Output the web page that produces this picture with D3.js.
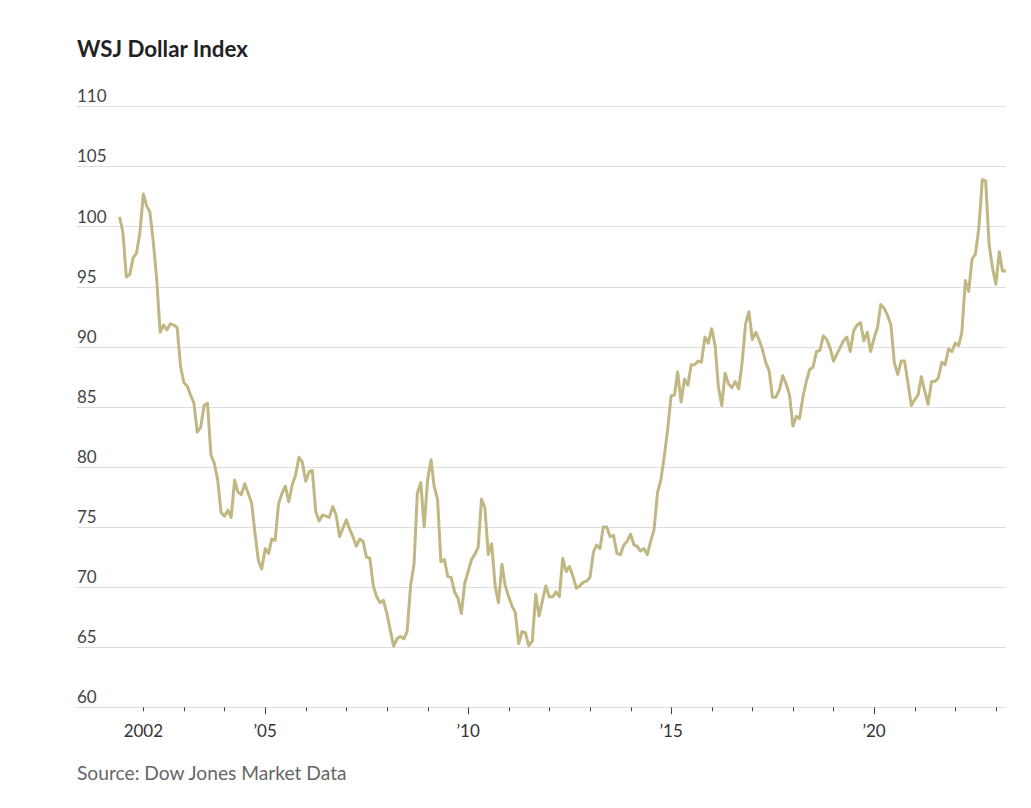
<!DOCTYPE html>
<html>
<head>
<meta charset="utf-8">
<script src="https://cdn.jsdelivr.net/npm/d3@7"></script>
<style>
  html, body { margin: 0; padding: 0; background: #fff; }
  svg { display: block; }
  text { font-family: Lato, "Open Sans", sans-serif; }
</style>
</head>
<body>
<svg id="chart" width="1031" height="808"></svg>
<script>
// ---- Data (monthly, starting June 2001) ----
const startMonth = [2001, 5]; // year, zero-based month
const indexValues = [
  100.8, 99.5, 95.8, 96.0, 97.4, 97.8, 99.5, 102.7, 101.7, 101.2,
  98.7, 95.6, 91.2, 91.8, 91.4, 91.9, 91.8, 91.6, 88.4, 87.0,
  86.7, 86.0, 85.3, 82.9, 83.3, 85.1, 85.3, 81.0, 80.3, 78.9,
  76.2, 75.9, 76.4, 75.8, 78.9, 77.9, 77.7, 78.6, 77.8, 77.0,
  74.5, 72.2, 71.5, 73.2, 72.8, 74.0, 73.9, 76.9, 77.8, 78.4,
  77.1, 78.5, 79.3, 80.8, 80.4, 78.8, 79.6, 79.7, 76.3, 75.5,
  76.0, 75.9, 75.8, 76.7, 76.0, 74.2,
  74.9, 75.6, 74.8, 74.2, 73.4, 74.0, 73.8, 72.5, 72.4, 70.1,
  69.2, 68.7, 68.9, 67.8, 66.4, 65.1, 65.7, 65.9, 65.7, 66.3,
  70.1, 71.9, 77.8, 78.7, 75.0, 78.9, 80.6, 78.4, 77.3, 72.1,
  72.3, 70.9, 70.8, 69.6, 69.1, 67.8, 70.3, 71.3, 72.3, 72.7,
  73.3, 77.3, 76.6, 72.7, 73.6, 70.1, 68.7, 71.9, 70.1, 69.2,
  68.4, 67.9, 65.3, 66.3, 66.2, 65.1, 65.5, 69.4, 67.6, 68.9,
  70.1, 69.2, 69.2, 69.6, 69.2,
  72.4, 71.3, 71.7, 70.9, 69.9, 70.1, 70.4, 70.5, 70.8, 72.9,
  73.5, 73.2, 75.0, 75.0, 74.2, 74.3, 72.8, 72.7, 73.5, 73.8,
  74.4, 73.5, 73.4, 73.0, 73.2, 72.7, 73.8, 74.8, 77.9, 78.9,
  80.9, 83.1, 85.9, 86.0, 87.9, 85.4, 87.3, 86.8, 88.5, 88.5,
  88.8, 88.7, 90.8, 90.3, 91.5, 90.1, 86.7, 85.1, 87.8, 86.9,
  86.6, 87.1, 86.5, 88.7, 91.9, 92.9, 90.6, 91.2, 90.6, 89.8,
  88.7, 88.0, 85.8, 85.8, 86.4,
  87.6, 86.9, 86.0, 83.4, 84.2, 84.0, 85.8, 87.1, 88.1, 88.3,
  89.6, 89.7, 90.9, 90.6, 89.9, 88.8, 89.4, 89.9, 90.5, 90.8,
  89.6, 91.3, 91.8, 92.0, 90.5, 91.2, 89.6, 90.7, 91.6, 93.5,
  93.2, 92.6, 91.8, 88.7, 87.7, 88.8, 88.8, 87.0, 85.1, 85.6,
  86.0, 87.5, 86.3, 85.2, 87.1, 87.1, 87.4, 88.7, 88.5, 89.8,
  89.6, 90.3, 90.1, 91.2, 95.5, 94.6, 97.3, 97.7, 99.9, 103.9,
  103.8, 98.5, 96.6, 95.2, 97.9, 96.3, 96.3
];
const yTicks = [60, 65, 70, 75, 80, 85, 90, 95, 100, 105, 110];
const xTickYears = d3.range(2002, 2024);
const xLabelYears = [2002, 2005, 2010, 2015, 2020];
const xMajorYears = [2005, 2010, 2015, 2020];
const titleText = "WSJ Dollar Index";
const sourceText = "Source: Dow Jones Market Data";

const data = indexValues.map((v, i) => ({
  date: new Date(startMonth[0], startMonth[1] + i, 1),
  value: v
}));

// ---- Layout ----
const svg = d3.select("#chart");
const plotLeft = 77, plotRight = 1006, plotTop = 106.3, plotBottom = 707.3;

const x = d3.scaleTime()
  .domain([new Date(2000, 4, 14), new Date(2023, 3, 2)])
  .range([plotLeft, plotRight]);
const y = d3.scaleLinear().domain([60, 110]).range([plotBottom, plotTop]);

// Title
svg.append("text")
  .attr("x", plotLeft).attr("y", 57)
  .attr("font-size", 22.3).attr("font-weight", 700)
  .attr("fill", "#222")
  .text(titleText);

// Gridlines + y labels
const grid = svg.append("g");
grid.selectAll("line").data(yTicks).join("line")
  .attr("x1", plotLeft).attr("x2", plotRight)
  .attr("y1", d => Math.round(y(d)) + 0.5).attr("y2", d => Math.round(y(d)) + 0.5)
  .attr("stroke", "#dedede").attr("stroke-width", 1.2);
grid.selectAll("text").data(yTicks).join("text")
  .attr("x", plotLeft).attr("y", d => y(d) - 4)
  .attr("font-size", 17).attr("fill", "#444")
  .text(d => d);

// X axis ticks
const xa = svg.append("g");
xa.selectAll("line").data(xTickYears).join("line")
  .attr("x1", d => Math.round(x(new Date(d, 0, 1))) + 0.5)
  .attr("x2", d => Math.round(x(new Date(d, 0, 1))) + 0.5)
  .attr("y1", plotBottom)
  .attr("y2", d => xMajorYears.includes(d) ? plotBottom + 7 : plotBottom + 4)
  .attr("stroke", "#444").attr("stroke-width", 1);
xa.selectAll("text").data(xLabelYears).join("text")
  .attr("x", d => x(new Date(d, 0, 1)))
  .attr("y", 737)
  .attr("text-anchor", "middle")
  .attr("font-size", 17).attr("fill", "#333")
  .text(d => d === 2002 ? "2002" : "\u2019" + String(d).slice(2));

// Line
const line = d3.line().x(d => x(d.date)).y(d => y(d.value));
svg.append("path")
  .datum(data)
  .attr("d", line)
  .attr("fill", "none")
  .attr("stroke", "#c0b783")
  .attr("stroke-width", 3)
  .attr("stroke-linejoin", "round");

// Source
svg.append("text")
  .attr("x", plotLeft).attr("y", 780)
  .attr("font-size", 19.2).attr("fill", "#666")
  .text(sourceText);
</script>
</body>
</html>
